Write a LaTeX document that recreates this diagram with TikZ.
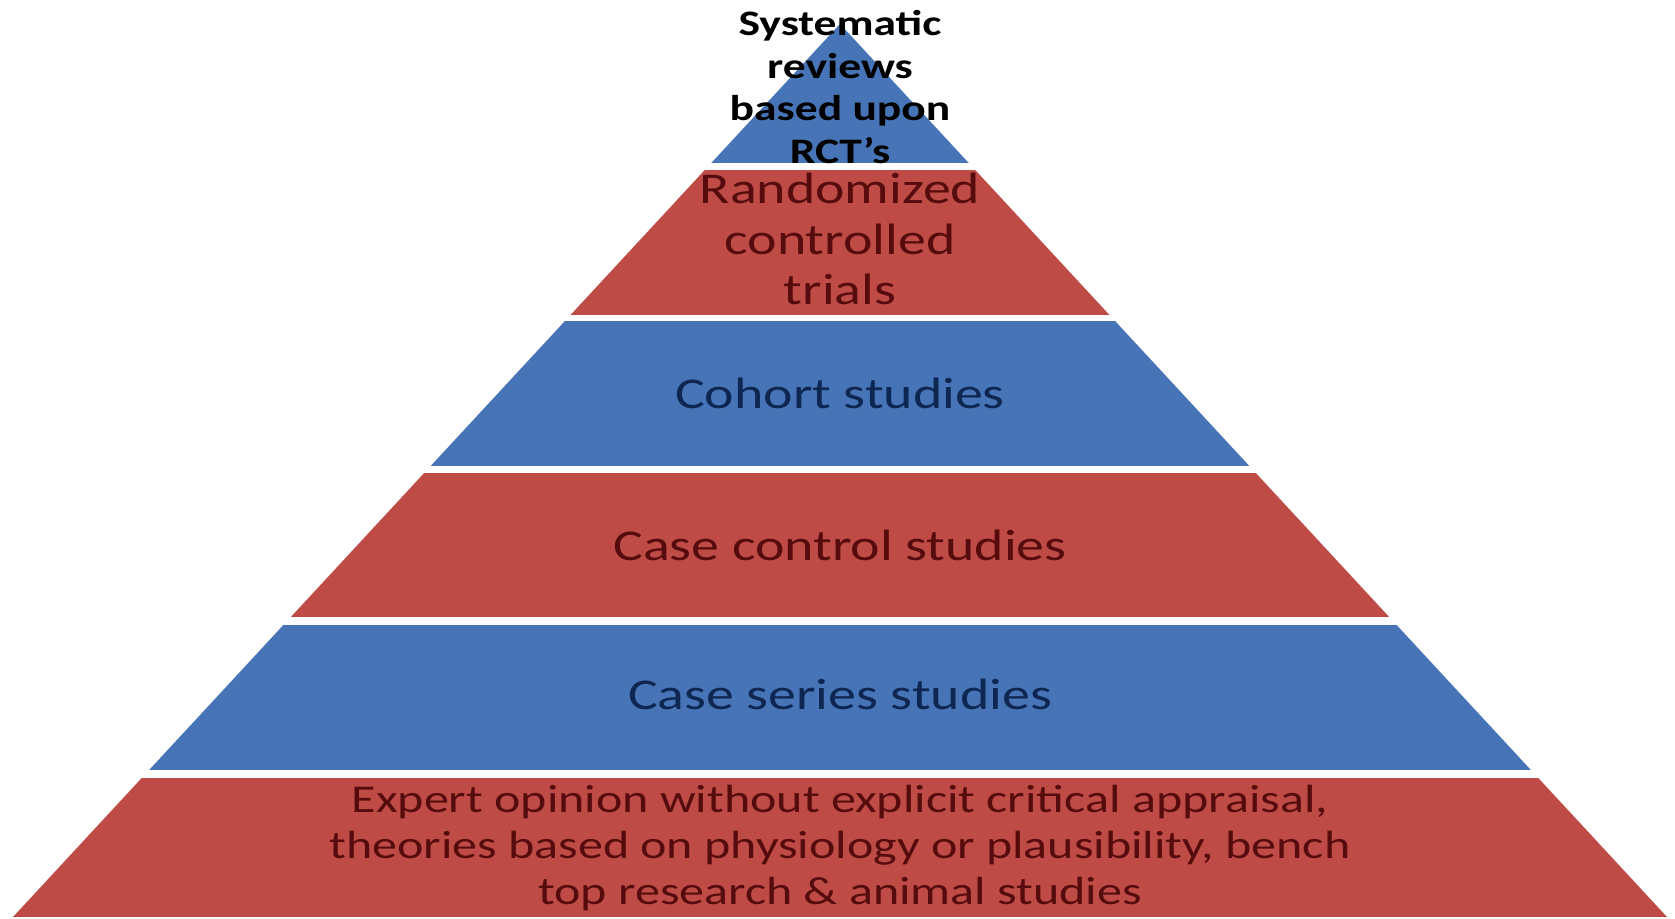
\documentclass[tikz,border=0pt]{standalone}
\usepackage{fontspec}
\setmainfont[FakeStretch=1.27]{Carlito}
\usepackage{xcolor}
\definecolor{bandblue}{RGB}{70,116,182}
\definecolor{bandred}{RGB}{191,75,71}
\definecolor{textblue}{RGB}{14,38,82}
\definecolor{textred}{RGB}{86,12,12}

\begin{document}
\begin{tikzpicture}[x=0.01cm, y=-0.01cm,
  every node/.style={align=center, inner sep=0pt},
  bigtext/.style={font=\fontsize{12.5}{14.3}\selectfont},
  toptext/.style={font=\bfseries\fontsize{10.2}{12.1}\selectfont, text=black},
  basetext/.style={font=\fontsize{11.2}{13.1}\selectfont, text=textred}]

\useasboundingbox (0,0) rectangle (1675,919);

% Bands
\begin{scope}
\clip (840,24) -- (1667,917) -- (13,917) -- cycle;
\fill[bandblue] (0,0) rectangle (1675,163);
\fill[bandred] (0,170) rectangle (1675,315);
\fill[bandblue] (0,321) rectangle (1675,466);
\fill[bandred] (0,473) rectangle (1675,617);
\fill[bandblue] (0,625) rectangle (1675,770);
\fill[bandred] (0,778) rectangle (1675,917);
\end{scope}

% Nodes
\node[toptext] (sysrev) at (840,87) {Systematic\\reviews\\based upon\\RCT's};
\node[bigtext, text=textred] (rct) at (840,239) {Randomized\\controlled\\trials};
\node[bigtext, text=textblue] (cohort) at (840,393) {Cohort studies};
\node[bigtext, text=textred] (casectrl) at (840,545) {Case control studies};
\node[bigtext, text=textblue] (caseser) at (840,694) {Case series studies};
\node[basetext] (expert) at (840,848) {Expert opinion without explicit critical appraisal,\\theories based on physiology or plausibility, bench\\top research \& animal studies};

\end{tikzpicture}
\end{document}
